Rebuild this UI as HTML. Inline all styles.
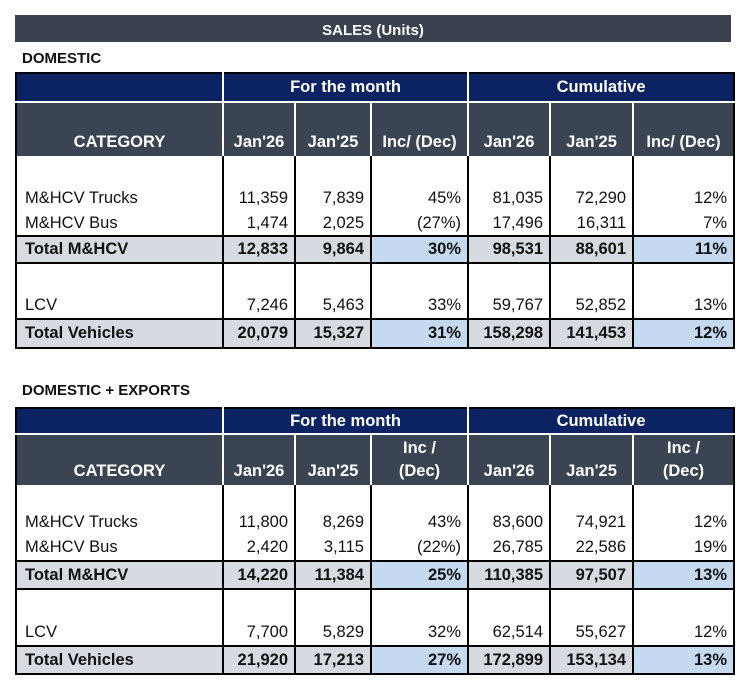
<!DOCTYPE html>
<html><head><meta charset="utf-8"><style>
body{margin:0;background:#fff;width:750px;height:687px;position:relative;font-family:"Liberation Sans",sans-serif;color:#111;}
.title{position:absolute;left:15px;top:15px;width:716px;height:27px;background:#3a4250;color:#fff;font-weight:bold;font-size:15px;text-align:center;line-height:31px;}
.lbl{position:absolute;left:22px;font-weight:bold;font-size:15px;}
table{position:absolute;left:15px;border-collapse:collapse;border:2px solid #000;font-size:16.5px;table-layout:fixed;width:718px;}
td{padding:0 6px;white-space:nowrap;border-left:2px solid #000;border-right:2px solid #000;text-align:right;overflow:hidden;}
td.c{text-align:left;padding-left:8px;}
tr.h1 td{background:#0b2263;color:#fff;font-weight:bold;text-align:center;border:2px solid #fff;border-top:none;}
tr.h2 td{background:#3b4452;color:#fff;font-weight:bold;text-align:center;vertical-align:bottom;padding:0 2px 2px;border:2px solid #fff;border-bottom:none;line-height:23px;}
tr.h1 td:first-child,tr.h2 td:first-child{border-left:none}
tr.h1 td:last-child,tr.h2 td:last-child{border-right:none}
tr.t td{background:#d6dbe2;font-weight:bold;border-top:2px solid #000;border-bottom:2px solid #000;}
tr.t td.b{background:#c5d9f1;}
</style></head><body>
<div class="title">SALES (Units)</div>
<div class="lbl" style="top:50px">DOMESTIC</div>
<table style="top:72px">
<colgroup><col style="width:207px"><col style="width:72px"><col style="width:76px"><col style="width:97px"><col style="width:82px"><col style="width:83px"><col style="width:101px"></colgroup>
<tr class="h1" style="height:29px"><td></td><td colspan="3">For the month</td><td colspan="3">Cumulative</td></tr>
<tr class="h2" style="height:54px"><td>CATEGORY</td><td>Jan'26</td><td>Jan'25</td><td>Inc/ (Dec)</td><td>Jan'26</td><td>Jan'25</td><td>Inc/ (Dec)</td></tr>
<tr style="height:30px"><td></td><td></td><td></td><td></td><td></td><td></td><td></td></tr>
<tr style="height:25px"><td class="c">M&amp;HCV Trucks</td><td>11,359</td><td>7,839</td><td>45%</td><td>81,035</td><td>72,290</td><td>12%</td></tr>
<tr style="height:25px"><td class="c">M&amp;HCV Bus</td><td>1,474</td><td>2,025</td><td>(27%)</td><td>17,496</td><td>16,311</td><td>7%</td></tr>
<tr class="t" style="height:27px"><td class="c">Total M&amp;HCV</td><td>12,833</td><td>9,864</td><td class="b">30%</td><td>98,531</td><td>88,601</td><td class="b">11%</td></tr>
<tr style="height:30px"><td></td><td></td><td></td><td></td><td></td><td></td><td></td></tr>
<tr style="height:26px"><td class="c">LCV</td><td>7,246</td><td>5,463</td><td>33%</td><td>59,767</td><td>52,852</td><td>13%</td></tr>
<tr class="t" style="height:29px"><td class="c">Total Vehicles</td><td>20,079</td><td>15,327</td><td class="b">31%</td><td>158,298</td><td>141,453</td><td class="b">12%</td></tr>
</table>
<div class="lbl" style="top:382px">DOMESTIC + EXPORTS</div>
<table style="top:407px">
<colgroup><col style="width:207px"><col style="width:72px"><col style="width:76px"><col style="width:97px"><col style="width:82px"><col style="width:83px"><col style="width:101px"></colgroup>
<tr class="h1" style="height:26px"><td></td><td colspan="3">For the month</td><td colspan="3">Cumulative</td></tr>
<tr class="h2" style="height:51px"><td>CATEGORY</td><td>Jan'26</td><td>Jan'25</td><td>Inc /<br>(Dec)</td><td>Jan'26</td><td>Jan'25</td><td>Inc /<br>(Dec)</td></tr>
<tr style="height:25px"><td></td><td></td><td></td><td></td><td></td><td></td><td></td></tr>
<tr style="height:25px"><td class="c">M&amp;HCV Trucks</td><td>11,800</td><td>8,269</td><td>43%</td><td>83,600</td><td>74,921</td><td>12%</td></tr>
<tr style="height:26px"><td class="c">M&amp;HCV Bus</td><td>2,420</td><td>3,115</td><td>(22%)</td><td>26,785</td><td>22,586</td><td>19%</td></tr>
<tr class="t" style="height:28px"><td class="c">Total M&amp;HCV</td><td>14,220</td><td>11,384</td><td class="b">25%</td><td>110,385</td><td>97,507</td><td class="b">13%</td></tr>
<tr style="height:31px"><td></td><td></td><td></td><td></td><td></td><td></td><td></td></tr>
<tr style="height:26px"><td class="c">LCV</td><td>7,700</td><td>5,829</td><td>32%</td><td>62,514</td><td>55,627</td><td>12%</td></tr>
<tr class="t" style="height:28px"><td class="c">Total Vehicles</td><td>21,920</td><td>17,213</td><td class="b">27%</td><td>172,899</td><td>153,134</td><td class="b">13%</td></tr>
</table>
</body></html>
